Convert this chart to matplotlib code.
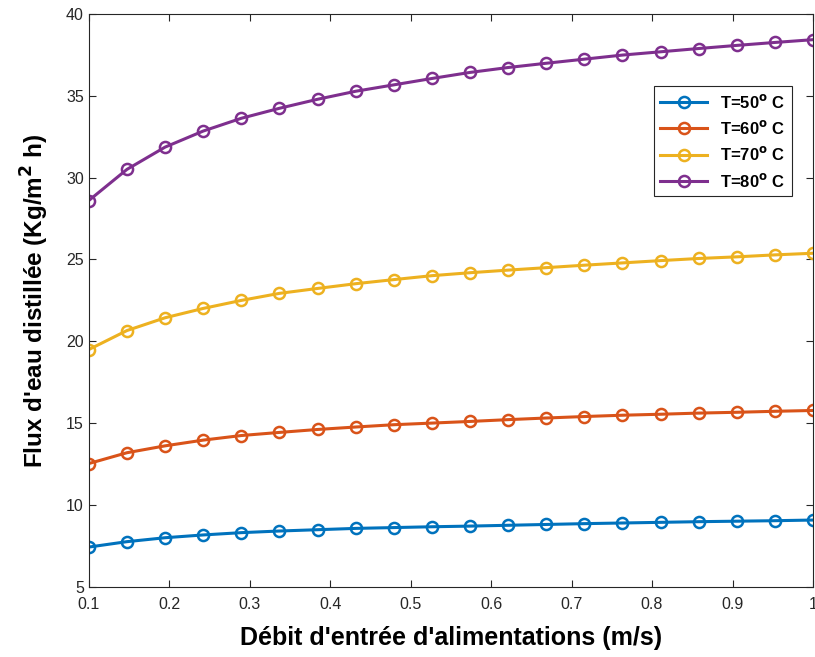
import numpy as np
import matplotlib
matplotlib.use('Agg')
import matplotlib.pyplot as plt

plt.rcParams['font.family'] = ['Liberation Sans', 'DejaVu Sans']
plt.rcParams['mathtext.default'] = 'bf'

# debit d'entree (m/s), 20 points
debit = np.linspace(0.1, 1.0, 20)

flux_50 = [7.44, 7.77, 8.01, 8.18, 8.32, 8.42, 8.50, 8.58, 8.63, 8.68,
           8.72, 8.77, 8.82, 8.87, 8.91, 8.95, 8.99, 9.02, 9.05, 9.09]
flux_60 = [12.54, 13.20, 13.62, 13.97, 14.25, 14.44, 14.62, 14.77, 14.91, 15.01,
           15.11, 15.22, 15.32, 15.41, 15.49, 15.55, 15.62, 15.67, 15.73, 15.78]
flux_70 = [19.50, 20.66, 21.44, 22.01, 22.50, 22.93, 23.23, 23.52, 23.77, 24.01,
           24.19, 24.35, 24.50, 24.65, 24.79, 24.93, 25.06, 25.16, 25.28, 25.38]
flux_80 = [28.60, 30.50, 31.86, 32.84, 33.62, 34.23, 34.78, 35.27, 35.66, 36.05,
           36.42, 36.72, 36.98, 37.23, 37.48, 37.68, 37.88, 38.07, 38.25, 38.42]

labels = ['T=50$^{\\mathbf{o}}$ C', 'T=60$^{\\mathbf{o}}$ C',
          'T=70$^{\\mathbf{o}}$ C', 'T=80$^{\\mathbf{o}}$ C']
colors = ['#0072BD', '#D95319', '#EDB120', '#7E2F8E']

fig = plt.figure(figsize=(8.15, 6.57), dpi=100)
ax = fig.add_axes([0.109, 0.1065, 0.8885, 0.8725])

for y, lab, c in zip([flux_50, flux_60, flux_70, flux_80], labels, colors):
    ax.plot(debit, y, '-o', color=c, lw=2.2, ms=8, mfc='none', mew=1.8, label=lab)

ax.set_xlim(0.1, 1.0)
ax.set_ylim(5, 40)
ax.set_xticks(np.arange(0.1, 1.01, 0.1))
ax.set_xticklabels(['0.1', '0.2', '0.3', '0.4', '0.5', '0.6', '0.7', '0.8', '0.9', '1'])
ax.set_yticks(range(5, 41, 5))

ax.tick_params(direction='in', top=True, right=True, length=5, width=0.8,
               labelsize=11.5, colors='#262626')
ax.tick_params(axis='x', pad=7.5)
for s in ax.spines.values():
    s.set_color('#262626')
    s.set_linewidth(0.8)

ax.set_xlabel("Débit d'entrée d'alimentations (m/s)", fontsize=18, fontweight='bold', labelpad=10)
ax.set_ylabel("Flux d'eau distillée (Kg/m$^{\\mathbf{2}}$ h)", fontsize=17.5, fontweight='bold', labelpad=11)

leg = ax.legend(loc='upper right', bbox_to_anchor=(0.971, 0.874), fancybox=False,
                edgecolor='#262626', framealpha=1, handlelength=2.8,
                prop={'weight': 'bold', 'size': 12}, borderaxespad=0)
leg.get_frame().set_linewidth(0.8)

fig.savefig('out.png', dpi=100)
